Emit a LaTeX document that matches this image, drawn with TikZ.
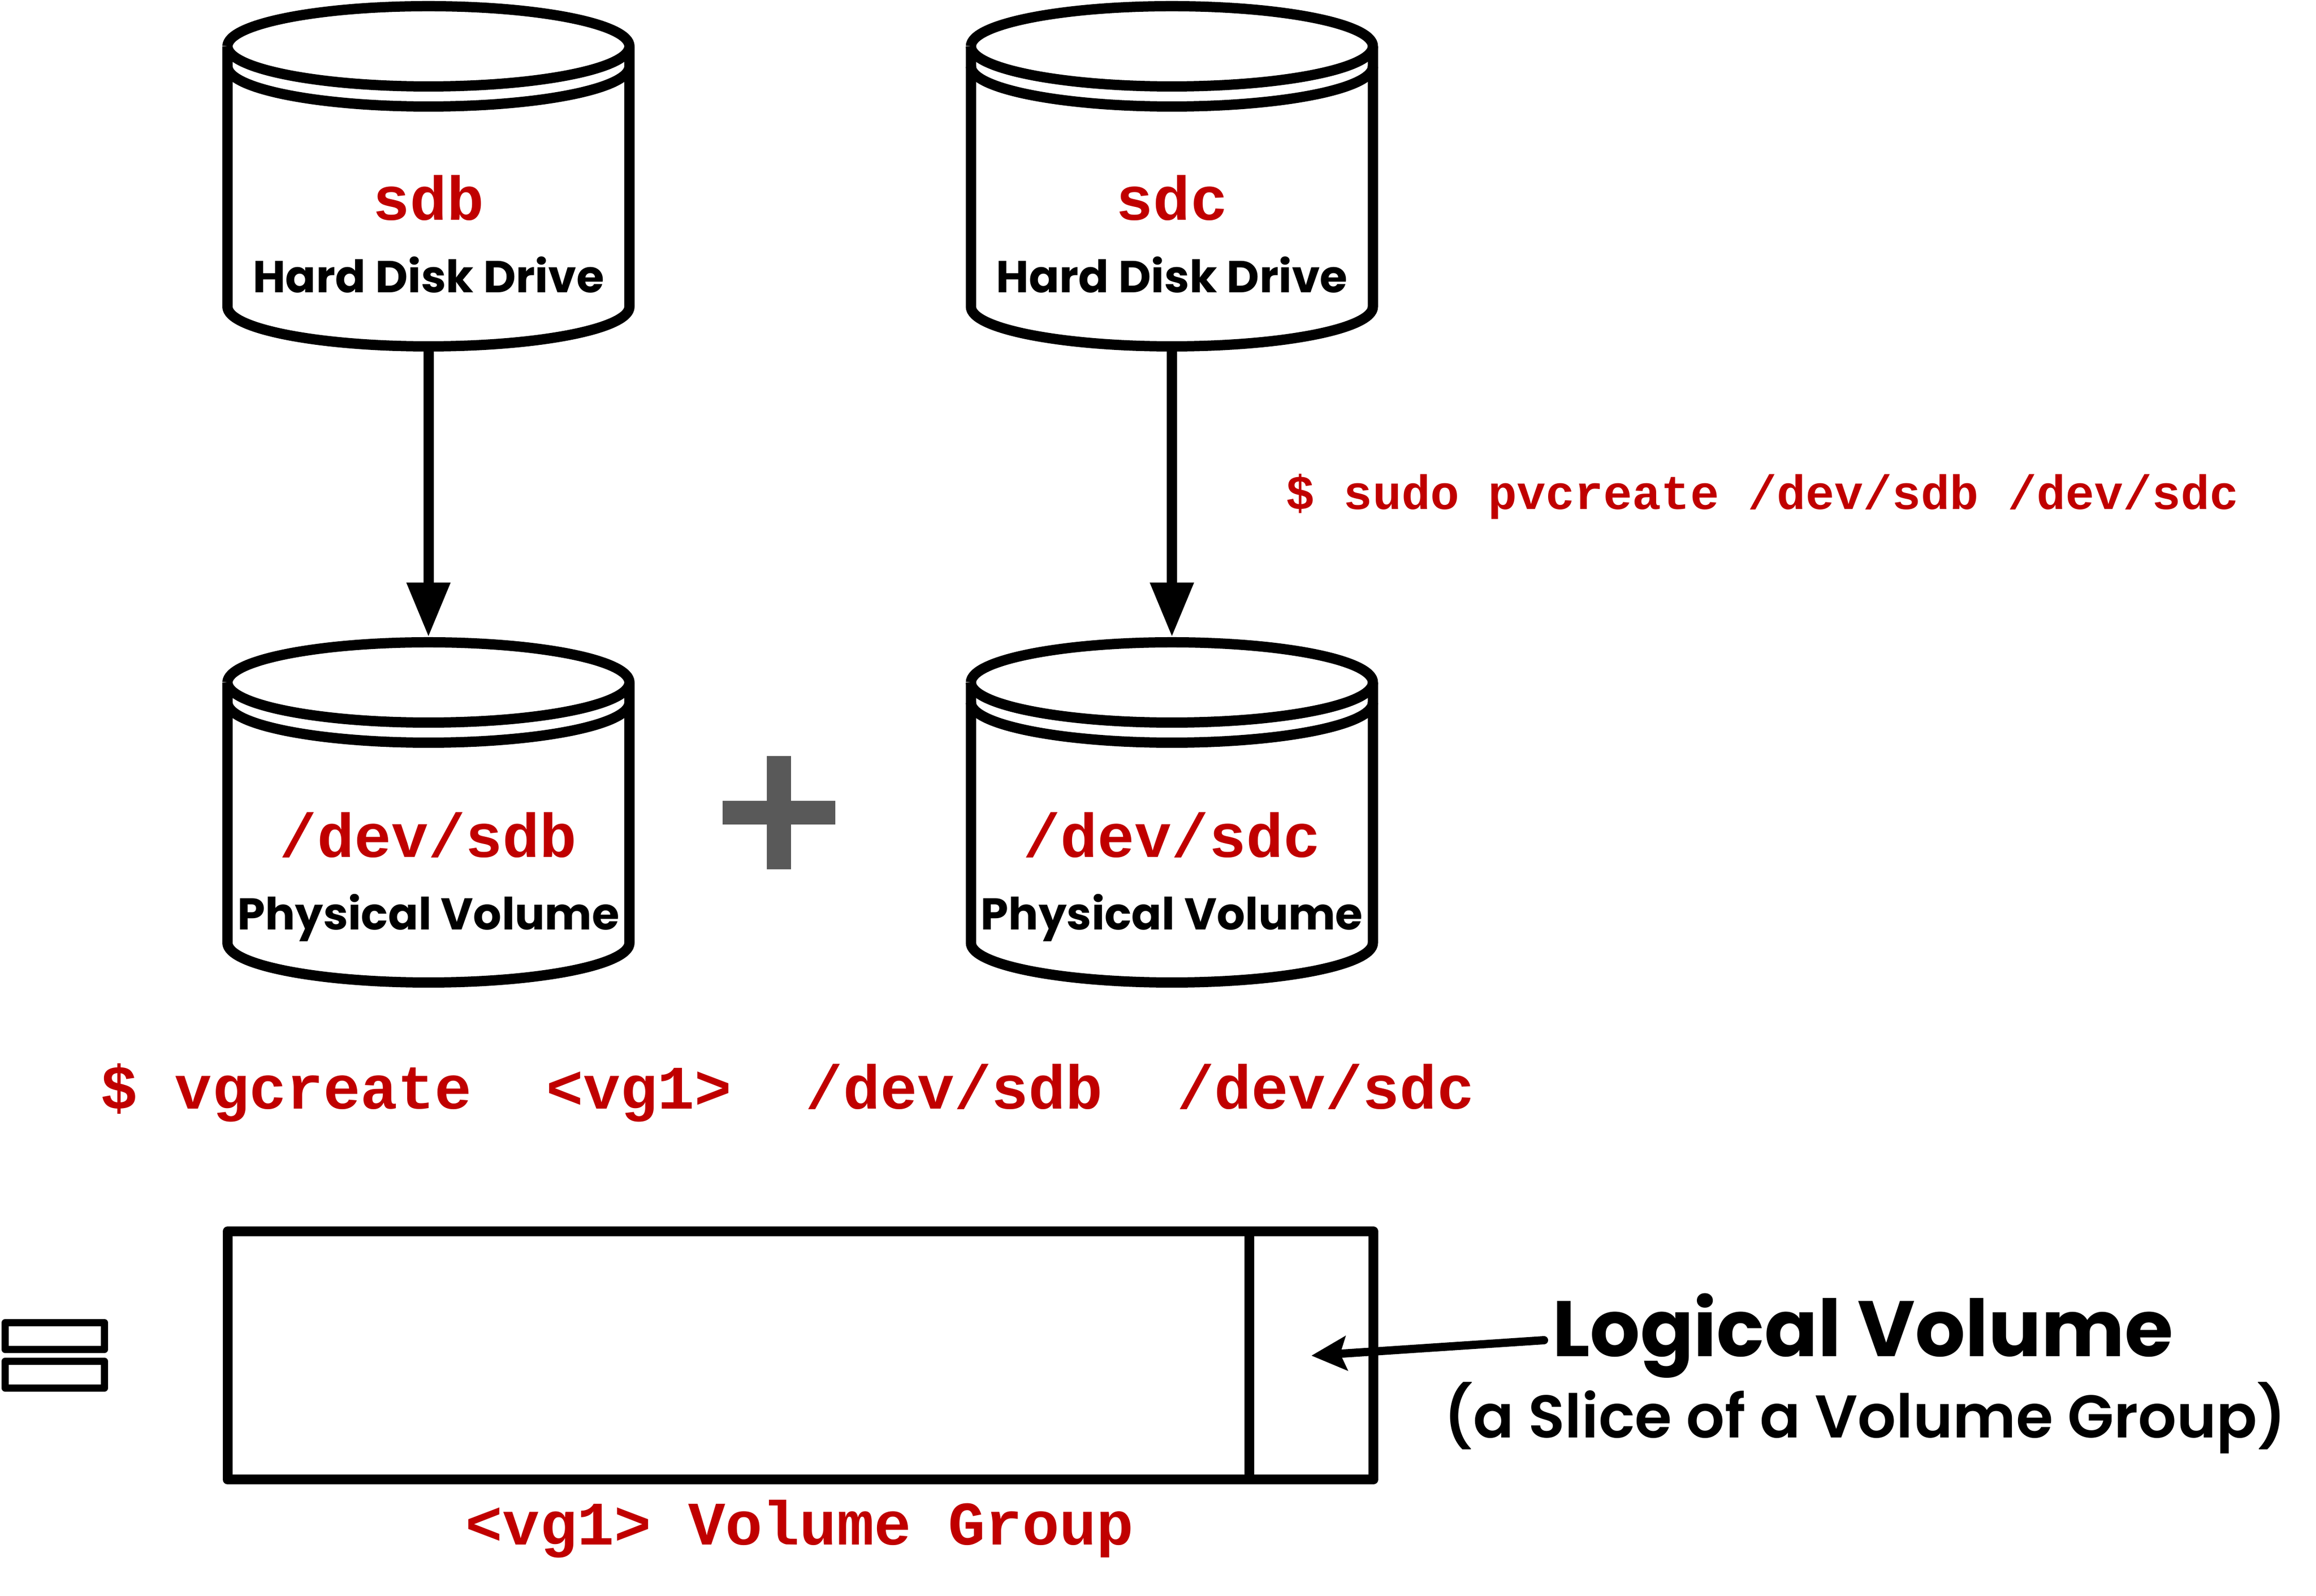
\documentclass[tikz,border=0pt]{standalone}
\usepackage{fontspec}
\setmainfont{Poppins}
\newfontfamily\notefont{Poppins SemiBold}
\setmonofont{Liberation Mono}
\usetikzlibrary{arrows.meta}
\definecolor{cmdred}{HTML}{C00000}
\definecolor{plusgray}{HTML}{595959}
\tikzset{
  disk/.style={line width=0.2cm,black,line join=round},
  flowline/.style={line width=0.2cm,-{Triangle[length=1.06cm,width=0.8cm]}},
  sliceline/.style={line width=0.16cm,line cap=round,-{Stealth[length=0.68cm,width=0.66cm,inset=0.12cm]}},
  cmd/.style={text=cmdred,font=\ttfamily\bfseries\fontsize{#1}{#1}\selectfont,inner sep=0pt,anchor=base},
  lbl/.style={font=\bfseries\fontsize{#1}{#1}\selectfont,inner sep=0pt,anchor=base},
  note/.style={font=\notefont\fontsize{#1}{#1}\selectfont,inner sep=0pt,anchor=base},
}
% one drive, outer top at #2
\newcommand{\drive}[3]{
  \coordinate (#3top) at (#1,#2);
  \coordinate (#3bot) at (#1,#2-6.81);
  \draw[disk] (#1-3.905,#2-0.88) arc (180:360:3.905 and 0.78) arc (0:180:3.905 and 0.78);
  \draw[disk] (#1-3.905,#2-1.27) arc (180:360:3.905 and 0.78);
  \draw[disk] (#1-3.905,#2-0.88) -- (#1-3.905,#2-5.94) arc (180:360:3.905 and 0.77) -- (#1+3.905,#2-0.88);
}
\begin{document}
\begin{tikzpicture}
\useasboundingbox (0,0) rectangle (45,31);
\drive{8.325}{30.98}{sdb}
\drive{22.77}{30.98}{sdc}
\drive{8.325}{18.62}{pvb}
\drive{22.77}{18.62}{pvc}
\draw[flowline] (sdbbot) -- (pvbtop);
\draw[flowline] (sdcbot) -- (pvctop);
\node[cmd=34.2pt] (sdbname) at (8.325,26.72) {sdb};
\node[cmd=34.2pt] (sdcname) at (22.77,26.72) {sdc};
\node[lbl=24.8pt] (sdblbl) at (8.325,25.31) {Hard Disk Drive};
\node[lbl=24.8pt] (sdclbl) at (22.77,25.31) {Hard Disk Drive};
\node[cmd=34.2pt] (pvbname) at (8.325,14.34) {/dev/sdb};
\node[cmd=34.2pt] (pvcname) at (22.77,14.34) {/dev/sdc};
\node[lbl=24.6pt] (pvblbl) at (8.325,12.93) {Physical Volume};
\node[lbl=24.6pt] (pvclbl) at (22.77,12.93) {Physical Volume};
% plus sign
\fill[plusgray] (14.04,14.98) rectangle (16.23,15.44);
\fill[plusgray] (14.9,14.11) rectangle (15.37,16.31);
\node[cmd=26.6pt,anchor=base west] (pvcmd) at (24.98,21.1) {\$ sudo pvcreate /dev/sdb /dev/sdc};
\node[cmd=34.2pt,anchor=base west] (vgcmd) at (1.95,9.45) {\$ vgcreate\ \ <vg1>\ \ /dev/sdb\ \ /dev/sdc};
\draw[disk,line width=0.14cm] (0.1,31-25.7) rectangle (2.03,31-26.22);
\draw[disk,line width=0.14cm] (0.1,31-26.45) rectangle (2.03,31-26.97);
\draw[disk,line width=0.19cm] (4.42,31-23.925) rectangle (26.685,31-28.75);
\draw[disk,line width=0.19cm] (24.27,31-23.925) -- (24.27,31-28.75);
\node[lbl=43.5pt,anchor=base west] (lvname) at (30.16,31-26.36) {Logical Volume};
\node[note=33.3pt,anchor=base west] (lvnote) at (28.05,31-27.94) {(a Slice of a Volume Group)};
\coordinate (lvtail) at (30,31-26.04);
\coordinate (lvtip) at (25.48,31-26.34);
\draw[sliceline] (lvtail) -- (lvtip);
\node[cmd=34.2pt] (vgname) at (15.54,31-30.02) {<vg1> Volume Group};
\end{tikzpicture}
\end{document}
